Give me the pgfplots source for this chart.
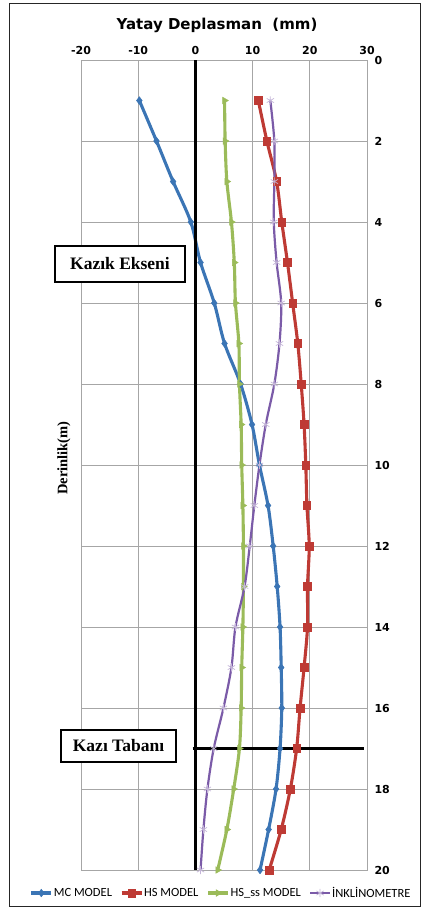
\documentclass[border=0pt]{standalone}
\usepackage{fontspec}
\setmainfont{Liberation Serif}
\newfontfamily\ticfont{DejaVu Sans}
\newfontfamily\legfont{Carlito}
\usepackage{pgfplots}
\usepackage{pgfplotstable}
\pgfplotsset{compat=1.18}
\definecolor{mcblue}{HTML}{3B75B5}
\definecolor{hsred}{HTML}{BE3A34}
\definecolor{ssgreen}{HTML}{9BBB59}
\definecolor{inkpurple}{HTML}{7B5BA8}
\definecolor{gridgray}{HTML}{A6A6A6}

% depth (m) vs lateral displacement (mm)
\pgfplotstableread{
depth mc    hs    hsss ink
1     -9.8  11.0  5.1  13.1
2     -6.8  12.5  5.2  13.8
3     -3.9  14.2  5.5  13.8
4     -0.8  15.1  6.3  13.7
5      0.9  16.1  6.8  14.2
6      3.3  17.0  7.0  15.0
7      5.1  17.9  7.6  14.7
8      7.9  18.5  7.7  13.8
9      9.9  19.0  8.0  12.3
10    11.2  19.3  8.1  11.2
11    12.7  19.5  8.3  10.3
12    13.6  19.9  8.4   9.5
13    14.3  19.6  8.4   8.6
14    14.8  19.6  8.3   7.0
15    15.0  19.0  8.1   6.3
16    15.1  18.3  8.0   4.9
17    14.8  17.7  7.7   3.2
18    14.1  16.6  6.7   2.1
19    12.8  15.0  5.5   1.4
20    11.3  12.9  3.9   0.9
}\data

\begin{document}
\begin{tikzpicture}
\useasboundingbox (0,0) rectangle (423pt,-910pt);
\draw[line width=1.2pt, black!85] (9.5pt,-3.5pt) rectangle (420.5pt,-906.5pt);
\begin{axis}[
    at={(81pt,-60pt)}, anchor=north west,
    scale only axis, width=286pt, height=810pt,
    xmin=-20, xmax=30, ymin=0, ymax=20,
    y dir=reverse,
    xtick={-20,-10,...,30}, ytick={0,2,...,20},
    xticklabel pos=upper, yticklabel pos=right,
    major tick length=0pt,
    grid=major,
    grid style={gridgray, line width=0.8pt},
    axis line style={gridgray, line width=0.8pt},
    /pgf/number format/assume math mode=true,
    ticklabel style={font=\ticfont\bfseries\fontsize{11}{13}\selectfont},
    xticklabel style={yshift=2pt},
    yticklabel style={xshift=4pt},
    clip=false,
    legend style={at={(0.488,-0.0284)}, anchor=center, draw=none, fill=none,
        legend columns=4, font=\legfont\fontsize{12.5}{14}\selectfont,
        /tikz/every even column/.append style={column sep=7pt},
        inner xsep=0pt, nodes={inner xsep=1pt}},
    legend image code/.code={\draw[mark repeat=2, mark phase=2, #1]
        plot coordinates {(0pt,0pt) (10pt,0pt) (20pt,0pt)};},
]
\addplot[mcblue, line width=3.1pt, smooth, mark=diamond*, mark size=3.8pt,
    mark options={line width=0.5pt}] table[x=mc, y=depth] {\data};
\addlegendentry{MC MODEL}
\addplot[hsred, line width=3.1pt, smooth, mark=square*, mark size=3.8pt,
    mark options={line width=0.5pt}] table[x=hs, y=depth] {\data};
\addlegendentry{HS MODEL}
\addplot[ssgreen, line width=3.1pt, smooth, mark=triangle*, mark size=3.8pt,
    mark options={line width=0.5pt, rotate=-90}] table[x=hsss, y=depth] {\data};
\addlegendentry{HS\_ss MODEL}
\addplot[inkpurple, line width=2.2pt, smooth, mark=asterisk, mark size=4.2pt,
    mark options={line width=0.7pt, draw=inkpurple!45}] table[x=ink, y=depth] {\data};
\addlegendentry{İNKLİNOMETRE}
% pile axis and excavation base
\addplot[black, line width=3.4pt, forget plot] coordinates {(0,0) (0,20)};
\addplot[black, line width=3.6pt, forget plot] coordinates {(-0.5,17) (29.4,17)};
\end{axis}
\node[font=\ticfont\bfseries\fontsize{15}{17}\selectfont] at (217pt,-25pt) {Yatay Deplasman\ \ (mm)};
\node[rotate=90, font=\bfseries\fontsize{14.5}{16}\selectfont] at (64pt,-458pt) {Derinlik(m)};
\node[draw, line width=1.2pt, fill=white, minimum width=130pt, minimum height=36pt,
    inner sep=0pt, font=\bfseries\fontsize{17.5}{20}\selectfont] at (120pt,-264pt) {Kazık Ekseni};
\node[draw, line width=1.2pt, fill=white, minimum width=115pt, minimum height=32pt,
    inner sep=0pt, font=\bfseries\fontsize{17.5}{20}\selectfont] at (118.5pt,-746pt) {Kazı Tabanı};
\end{tikzpicture}
\end{document}
